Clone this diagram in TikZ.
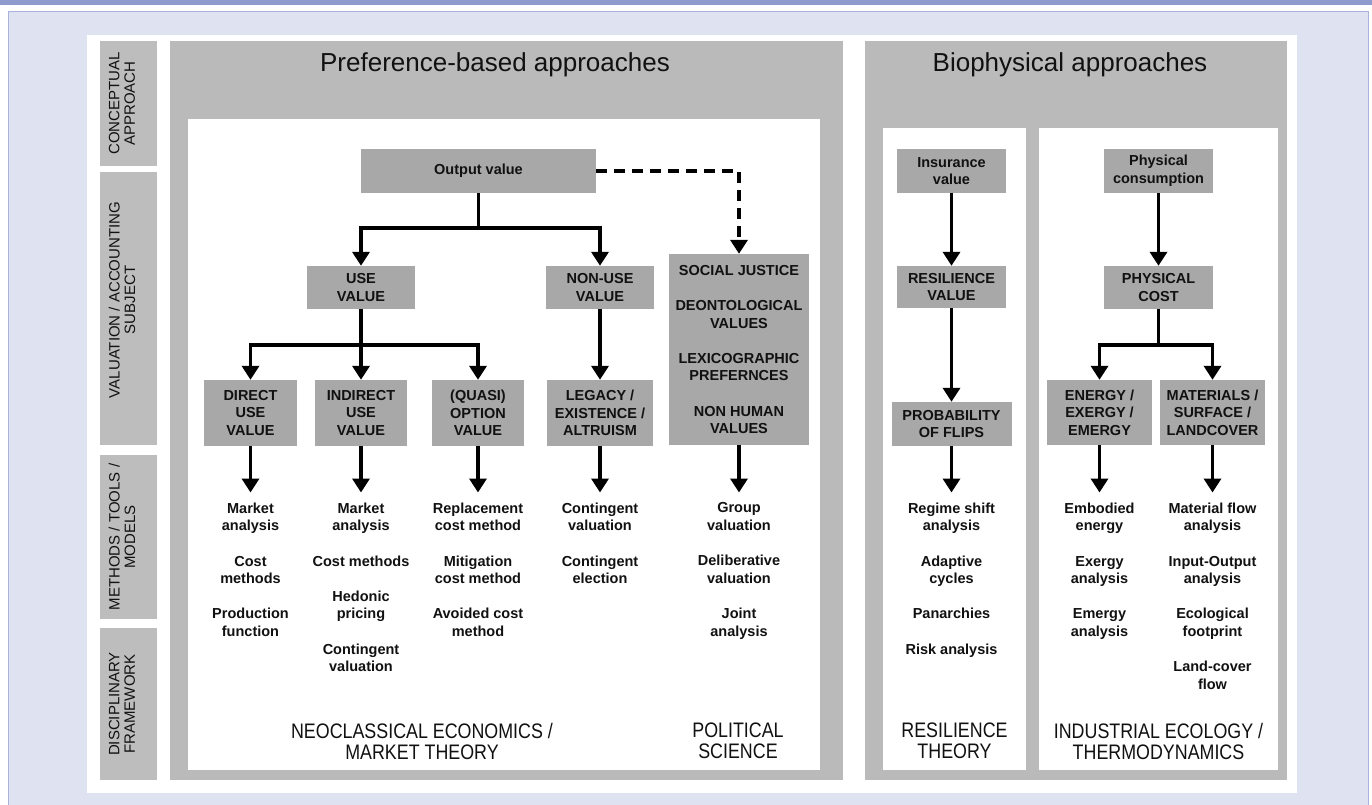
\documentclass[tikz,border=0pt]{standalone}
\usepackage{fontspec}
\setmainfont{Liberation Sans}
\newfontfamily\narrowfont[FakeStretch=0.85]{Liberation Sans}
\usetikzlibrary{arrows.meta}
\definecolor{lavband}{HTML}{8E9BCC}
\definecolor{lavbg}{HTML}{DFE3F1}
\definecolor{lavline}{HTML}{A9B2DA}
\definecolor{panelgray}{HTML}{BABABA}
\definecolor{boxgray}{HTML}{A8A8A8}
\definecolor{labelgray}{HTML}{BDBDBD}
\definecolor{ink}{HTML}{111111}
\begin{document}
\begin{tikzpicture}[x=1pt,y=-1pt,
  vbox/.style={fill=boxgray, inner sep=0pt, align=center, text=ink,
    font=\bfseries\fontsize{14.5}{17.6}\selectfont},
  methods/.style={anchor=north, inner sep=0pt, align=center, text=ink,
    font=\bfseries\fontsize{14.5}{17.6}\selectfont},
  sidelabel/.style={rotate=90, align=center, inner sep=0pt, text=ink,
    font=\fontsize{15}{15.5}\selectfont},
  title/.style={anchor=base, inner sep=0pt, text=ink, font=\fontsize{26}{30}\selectfont},
  discipline/.style={anchor=north, align=center, inner sep=0pt, text=ink,
    font=\narrowfont\fontsize{21}{21}\selectfont},
  conn/.style={line width=3.6pt, draw=black},
  arr/.style={conn, -{Triangle[width=17pt,length=14pt]}},
  dashconn/.style={arr, dash pattern=on 11pt off 7pt}
]
\useasboundingbox (0,0) rectangle (1372,805);
% background
\fill[white] (0,0) rectangle (1372,805);
\fill[lavband] (0,0) rectangle (1372,5);
\filldraw[fill=lavbg, draw=lavline, line width=1pt] (8,12) rectangle (1368,812);
\fill[white] (87,35) rectangle (1297,793);

% side labels
\fill[labelgray] (100,41) rectangle (157,166);
\fill[labelgray] (100,172) rectangle (157,445);
\fill[labelgray] (100,455) rectangle (157,619);
\fill[labelgray] (100,628) rectangle (157,780);
\node[sidelabel] (lab1) at (122,103.5) {CONCEPTUAL\\APPROACH};
\node[sidelabel] (lab2) at (122,300) {VALUATION / ACCOUNTING\\SUBJECT};
\node[sidelabel] (lab3) at (122,537) {METHODS / TOOLS /\\MODELS};
\node[sidelabel] (lab4) at (122,704) {DISCIPLINARY\\FRAMEWORK};

% panels
\fill[panelgray] (170,41) rectangle (843,780);
\fill[white] (188,119) rectangle (820,770);
\fill[panelgray] (865,41) rectangle (1287,780);
\fill[white] (883,128) rectangle (1026,770);
\fill[white] (1039,128) rectangle (1278,770);

\node[title] (t1) at (495,72) {Preference-based approaches};
\node[title] (t2) at (1070,72) {Biophysical approaches};

% preference tree
\node[vbox, minimum width=235pt, minimum height=44pt] (out) at (478.5,171) {Output value};
\node[vbox, minimum width=108pt, minimum height=43pt] (use) at (361,287.5) {USE\\VALUE};
\node[vbox, minimum width=108pt, minimum height=43pt] (nonuse) at (600,287.5) {NON-USE\\VALUE};
\node[vbox, minimum width=140pt, minimum height=191pt] (soc) at (739,349.5)
  {SOCIAL JUSTICE\\[17.6pt]DEONTOLOGICAL\\VALUES\\[17.6pt]LEXICOGRAPHIC\\PREFERNCES\\[17.6pt]NON HUMAN\\VALUES};
\node[vbox, minimum width=93pt, minimum height=66pt] (direct) at (250.5,413) {DIRECT\\USE\\VALUE};
\node[vbox, minimum width=92pt, minimum height=66pt] (indirect) at (361,413) {INDIRECT\\USE\\VALUE};
\node[vbox, minimum width=92pt, minimum height=66pt] (quasi) at (478,413) {(QUASI)\\OPTION\\VALUE};
\node[vbox, minimum width=106pt, minimum height=66pt] (legacy) at (600,413) {LEGACY /\\EXISTENCE /\\ALTRUISM};

\coordinate (b1) at (478.5,228);
\coordinate (b2) at (361,345);
\draw[conn] (out) -- (b1);
\draw[arr] (b1) -| (use);
\draw[arr] (b1) -| (nonuse);
\draw[dashconn] (out.east) -| (soc);
\draw[conn] (use) -- (b2);
\draw[arr] (b2) -| (direct);
\draw[arr] (b2) -- (indirect);
\draw[arr] (b2) -| (quasi);
\draw[arr] (nonuse) -- (legacy);

\node[methods] (m1) at (250.5,502.5) {Market\\analysis\\[17.6pt]Cost\\methods\\[17.6pt]Production\\function};
\node[methods] (m2) at (361,502.5) {Market\\analysis\\[17.6pt]Cost methods\\[17.6pt]Hedonic\\pricing\\[17.6pt]Contingent\\valuation};
\node[methods] (m3) at (478,502.5) {Replacement\\cost method\\[17.6pt]Mitigation\\cost method\\[17.6pt]Avoided cost\\method};
\node[methods] (m4) at (600,502.5) {Contingent\\valuation\\[17.6pt]Contingent\\election};
\node[methods] (m5) at (739,502.5) {Group\\valuation\\[17.6pt]Deliberative\\valuation\\[17.6pt]Joint\\analysis};
\draw[arr, shorten >=10pt] (direct) -- (m1);
\draw[arr, shorten >=10pt] (indirect) -- (m2);
\draw[arr, shorten >=10pt] (quasi) -- (m3);
\draw[arr, shorten >=10pt] (legacy) -- (m4);
\draw[arr, shorten >=10pt] (soc) -- (m5);

% resilience
\node[vbox, minimum width=109pt, minimum height=43pt] (ins) at (951.5,171) {Insurance\\value};
\node[vbox, minimum width=109pt, minimum height=42pt] (res) at (951.5,287) {RESILIENCE\\VALUE};
\node[vbox, minimum width=120pt, minimum height=44pt] (prob) at (951.5,424) {PROBABILITY\\OF FLIPS};
\draw[arr] (ins) -- (res);
\draw[arr] (res) -- (prob);
\node[methods] (m6) at (951.5,502.5) {Regime shift\\analysis\\[17.6pt]Adaptive\\cycles\\[17.6pt]Panarchies\\[17.6pt]Risk analysis};
\draw[arr, shorten >=10pt] (prob) -- (m6);

% industrial ecology
\node[vbox, minimum width=109pt, minimum height=44pt] (phys) at (1158.5,171) {Physical\\consumption};
\node[vbox, minimum width=109pt, minimum height=43pt] (pcost) at (1158.5,287.5) {PHYSICAL\\COST};
\node[vbox, minimum width=105pt, minimum height=65pt] (energy) at (1099.5,412.5) {ENERGY /\\EXERGY /\\EMERGY};
\node[vbox, minimum width=105pt, minimum height=65pt] (mat) at (1212.5,412.5) {MATERIALS /\\SURFACE /\\LANDCOVER};
\coordinate (b3) at (1158.5,345);
\draw[arr] (phys) -- (pcost);
\draw[conn] (pcost) -- (b3);
\draw[arr] (b3) -| (energy);
\draw[arr] (b3) -| (mat);
\node[methods] (m7) at (1099.5,502.5) {Embodied\\energy\\[17.6pt]Exergy\\analysis\\[17.6pt]Emergy\\analysis};
\node[methods] (m8) at (1212.5,502.5) {Material flow\\analysis\\[17.6pt]Input-Output\\analysis\\[17.6pt]Ecological\\footprint\\[17.6pt]Land-cover\\flow};
\draw[arr, shorten >=10pt] (energy) -- (m7);
\draw[arr, shorten >=10pt] (mat) -- (m8);

% disciplinary frameworks
\node[discipline] (d1) at (422,723) {NEOCLASSICAL ECONOMICS /\\MARKET THEORY};
\node[discipline] (d2) at (738,723) {POLITICAL\\SCIENCE};
\node[discipline] (d3) at (954.5,723) {RESILIENCE\\THEORY};
\node[discipline] (d4) at (1158.5,723) {INDUSTRIAL ECOLOGY /\\THERMODYNAMICS};
\end{tikzpicture}
\end{document}
